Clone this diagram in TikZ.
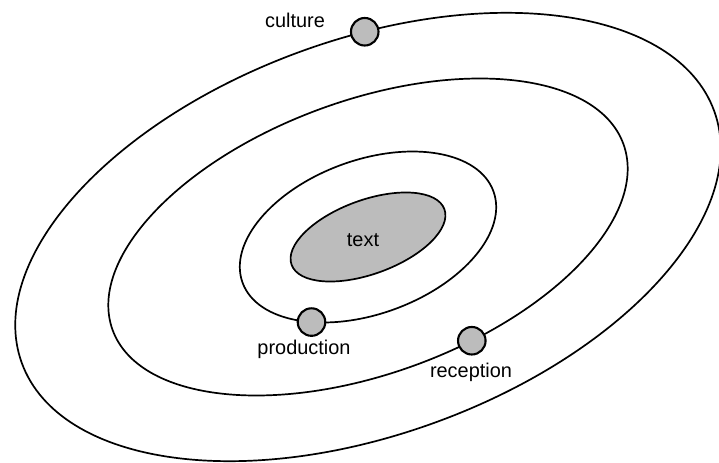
\documentclass[tikz,border=0pt]{standalone}
\usepackage{fontspec}
\setmainfont{Liberation Sans}
\usepackage{tikz}
\usetikzlibrary{positioning}
\definecolor{dotgray}{RGB}{188,188,188}

\begin{document}
\begin{tikzpicture}[x=0.03cm, y=0.03cm,
  orbit/.style={draw=black, line width=1.45pt},
  planet/.style={circle, draw=black, line width=1.8pt, fill=dotgray, minimum size=23.5pt, inner sep=0pt},
  lbl/.style={inner sep=1pt, font=\fontsize{17}{20}\selectfont}]
\useasboundingbox (0,0) rectangle (719,462);
% Orbits around the text
\begin{scope}[shift={(368,225)}, rotate=20]
\coordinate (ctr) at (0,0);
\draw[orbit] (ctr) ellipse [x radius=368.4, y radius=197.3];
\draw[orbit] (ctr) ellipse [x radius=271.8, y radius=136.6];
\draw[orbit] (ctr) ellipse [x radius=133.5, y radius=76.9];
\draw[orbit, fill=dotgray] (ctr) ellipse [x radius=81.3, y radius=37.0];
% Points on the orbits
\node[planet] (cult) at (79.5:368.4 and 197.3) {};
\node[planet] (recp) at (283.2:271.8 and 136.6) {};
\node[planet] (prod) at (232:133.5 and 76.9) {};
\end{scope}
% Labels
\node[lbl] (txt) at (363,222) {text};
\node[lbl] (cultlbl) at (295,442) {culture};
\node[lbl] (prodlbl) at (304,113) {production};
\node[lbl] (recplbl) at (471,90) {reception};
\end{tikzpicture}
\end{document}
